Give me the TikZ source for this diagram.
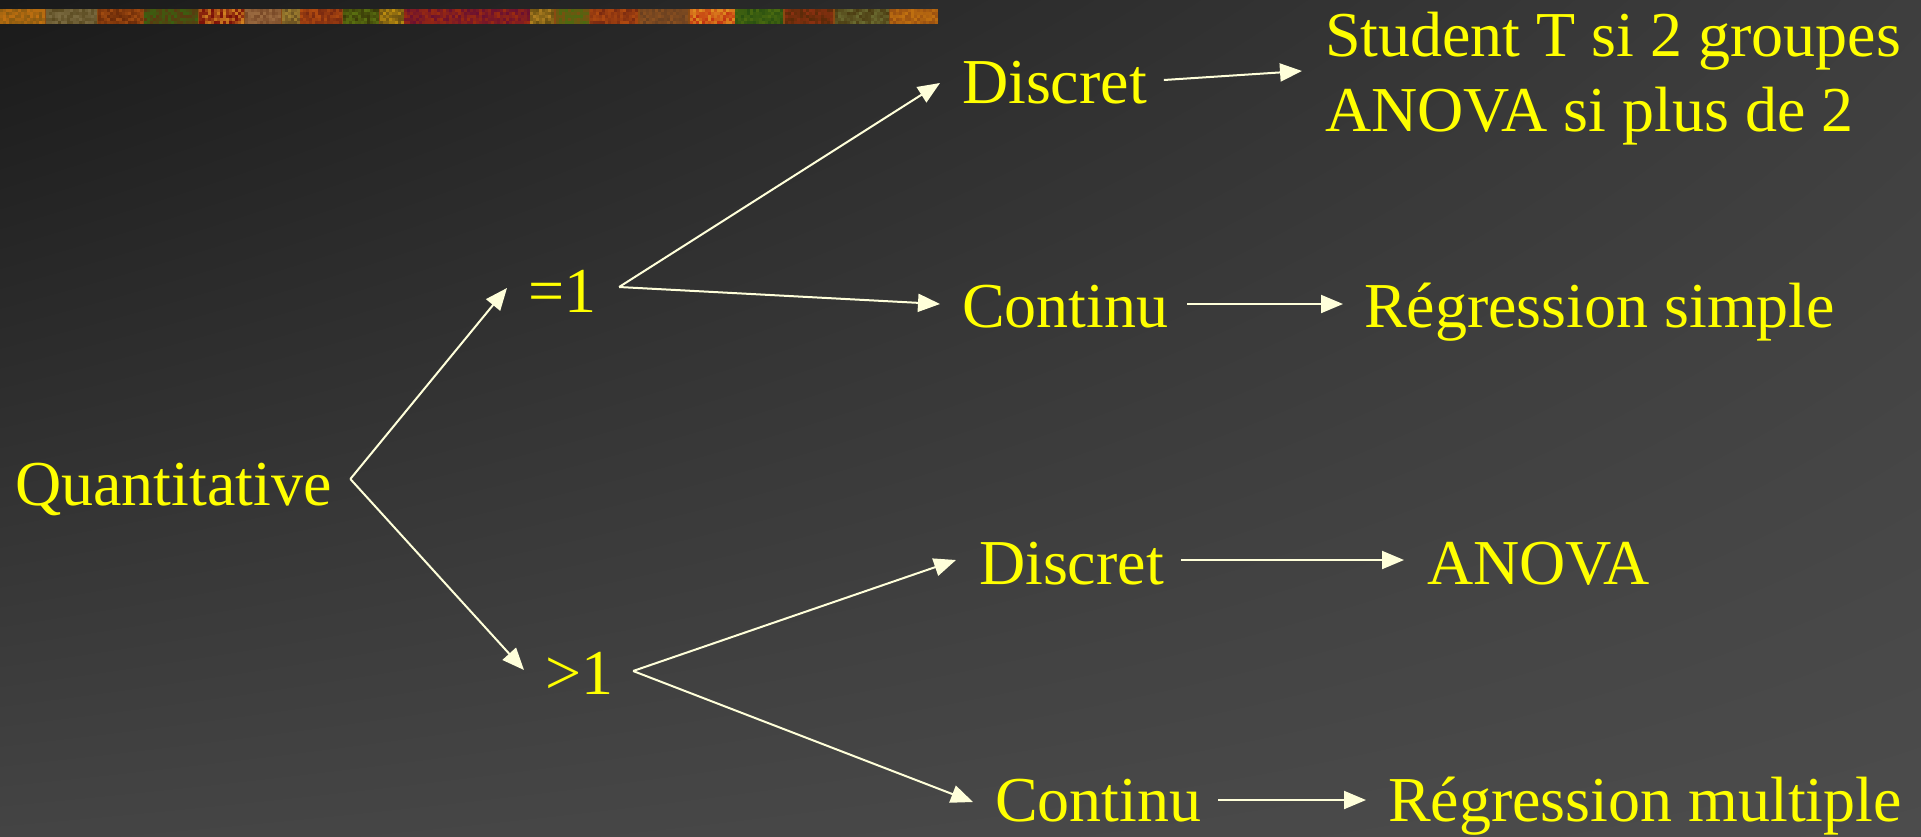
\documentclass[tikz,border=0pt]{standalone}
\usepackage{fontspec}
\setmainfont{Liberation Serif}
\usetikzlibrary{arrows.meta,calc,shadings}

\definecolor{bgTL}{HTML}{1A1A1A}
\definecolor{bgTR}{HTML}{3E3E3E}
\definecolor{bgBL}{HTML}{444444}
\definecolor{bgBR}{HTML}{4C4C4C}
\definecolor{txtyellow}{HTML}{FFFF00}
\definecolor{linecream}{RGB}{255,255,218}
\definecolor{stripbase}{HTML}{8A4A12}

\begin{document}
\begin{tikzpicture}[x=0.5pt,y=-0.5pt,
  lbl/.style={anchor=base west,inner sep=0pt,outer sep=0pt,text=txtyellow,
              font=\fontsize{32pt}{37.5pt}\selectfont},
  link/.style={draw=linecream,line width=1pt,
               -{Triangle[length=11pt,width=9pt]}}]

% canvas and shaded backdrop
\useasboundingbox (0,0) rectangle (1921,836);
\shade[upper left=bgTL,upper right=bgTR,lower left=bgBL,lower right=bgBR]
  (0,0) rectangle (1921,836);

% textured ribbon along the top edge
\fill[stripbase] (0,9) rectangle (938,24);
\pgfmathsetseed{2718}
\foreach \xa/\xb/\ca/\cb in {
  0/46/C07010/8A5A10,
  46/98/7A6A40/5A4A20,
  98/144/A04A10/6A2A08,
  144/199/3A6010/5A3A10,
  199/245/7A1008/D08020,
  245/282/7A4A28/9A6A40,
  282/300/A08030/6A5020,
  300/343/B04A10/7A2A10,
  343/380/5A7010/3A3A08,
  380/404/C09010/6A5010,
  404/530/9A2A10/6A1030,
  530/556/B08020/6A5010,
  556/590/4A6A10/7A5010,
  590/640/B04A10/7A2A10,
  640/690/8A5020/6A4020,
  690/735/C03010/E09020,
  735/785/2A5010/4A6A10,
  785/835/8A3010/5A2A08,
  835/890/6A6A30/4A3A10,
  890/938/C07010/9A5010}{
  \definecolor{ca}{HTML}{\ca}
  \definecolor{cb}{HTML}{\cb}
  \pgfmathtruncatemacro\xn{\xa+3}
  \pgfmathtruncatemacro\xe{\xb-3}
  \foreach \x in {\xa,\xn,...,\xe}{
    \foreach \y in {9,12,15,18,21}{
      \pgfmathtruncatemacro\r{random(0,100)}
      \fill[ca!\r!cb] (\x,\y) rectangle ++(3,3);
    }
  }
}

% labels
\node[lbl] (q)  at (15,505)   {Quantitative};
\node[lbl] (eq) at (528,312)  {=1};
\node[lbl] (gt) at (545,694)  {>1};
\node[lbl] (d1) at (962,103)  {Discret};
\node[lbl] (c1) at (962,327)  {Continu};
\node[lbl,align=left] (st) at (1325,131) {Student T si 2 groupes\\ANOVA si plus de 2};
\node[lbl] (rs) at (1364,327) {Régression simple};
\node[lbl] (d2) at (979,584)  {Discret};
\node[lbl] (an) at (1427,584) {ANOVA};
\node[lbl] (c2) at (995,821)  {Continu};
\node[lbl] (rm) at (1388,821) {Régression multiple};

% connectors
\draw[link] ($(q.base east)+(19,-26)$)  -- ($(eq.base west)+(-21,-24)$);
\draw[link] ($(q.base east)+(19,-26)$)  -- ($(gt.base west)+(-21,-24)$);
\draw[link] ($(eq.base east)+(23,-25)$) -- ($(d1.base west)+(-22,-20)$);
\draw[link] ($(eq.base east)+(23,-25)$) -- ($(c1.base west)+(-22,-23)$);
\draw[link] ($(d1.base east)+(17,-23)$) -- ($(st.base west)+(-23,-60)$);
\draw[link] ($(c1.base east)+(19,-23)$) -- ($(rs.base west)+(-21,-23)$);
\draw[link] ($(gt.base east)+(20,-23)$) -- ($(d2.base west)+(-23,-24)$);
\draw[link] ($(gt.base east)+(20,-23)$) -- ($(c2.base west)+(-22,-19)$);
\draw[link] ($(d2.base east)+(17,-24)$) -- ($(an.base west)+(-23,-24)$);
\draw[link] ($(c2.base east)+(17,-21)$) -- ($(rm.base west)+(-22,-21)$);
\end{tikzpicture}
\end{document}
